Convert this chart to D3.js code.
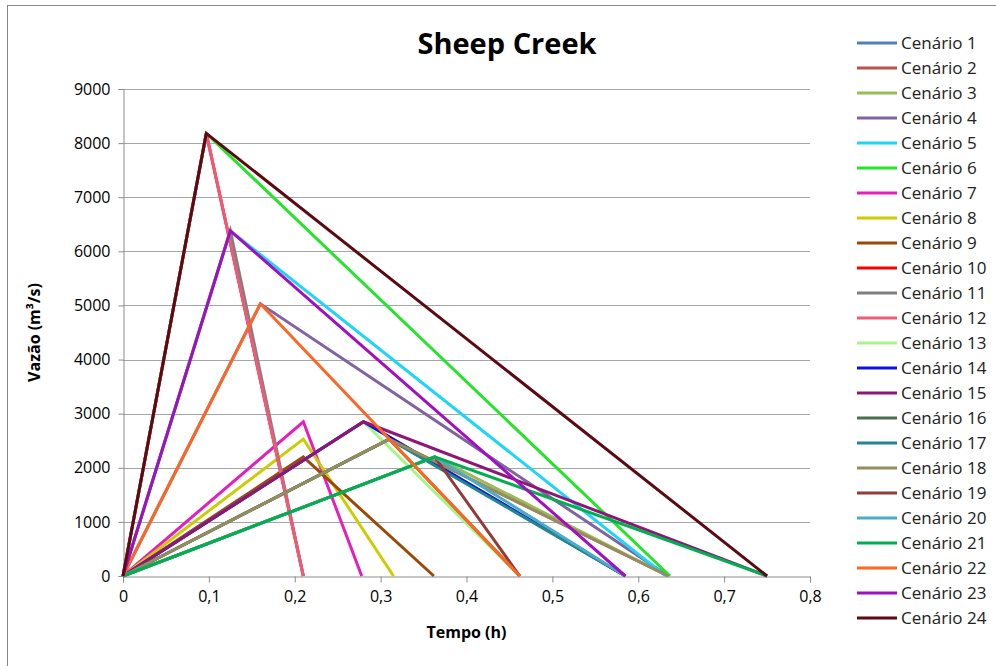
<!DOCTYPE html>
<html>
<head>
<meta charset="utf-8">
<script src="https://cdn.jsdelivr.net/npm/d3@7"></script>
<style>
  body { margin: 0; background: #fff; }
  svg { display: block; }
  text { font-family: "Liberation Sans Narrow", "Open Sans", "Liberation Sans", sans-serif; }
</style>
</head>
<body>
<svg id="chart" width="996" height="666"></svg>
<script>
// ---- Data ----
const scenarios = ["Cenário 1","Cenário 2","Cenário 3","Cenário 4","Cenário 5","Cenário 6",
  "Cenário 7","Cenário 8","Cenário 9","Cenário 10","Cenário 11","Cenário 12",
  "Cenário 13","Cenário 14","Cenário 15","Cenário 16","Cenário 17","Cenário 18",
  "Cenário 19","Cenário 20","Cenário 21","Cenário 22","Cenário 23","Cenário 24"];
// time of peak (h)
const peakTime = [0.28, 0.31, 0.363, 0.16, 0.125, 0.097,
  0.21, 0.21, 0.21, 0.097, 0.125, 0.097,
  0.28, 0.28, 0.28, 0.31, 0.31, 0.31,
  0.363, 0.363, 0.363, 0.16, 0.125, 0.097];
// peak flow (m3/s)
const peakFlow = [2850, 2530, 2200, 5030, 6380, 8180,
  2850, 2530, 2200, 8180, 6380, 8180,
  2850, 2850, 2850, 2530, 2530, 2530,
  2200, 2200, 2200, 5030, 6380, 8180];
// base time (h)
const baseTime = [0.585, 0.635, 0.635, 0.635, 0.632, 0.637,
  0.278, 0.315, 0.362, 0.21, 0.21, 0.21,
  0.462, 0.585, 0.75, 0.462, 0.585, 0.635,
  0.462, 0.585, 0.75, 0.462, 0.585, 0.75];
const colors = ["#4F81BD","#C0504D","#9BBB59","#8064A2","#1FD5F5","#26E32B",
  "#E41FBE","#CCCC00","#9A4A06","#FF0000","#808080","#EE5A78",
  "#A6F58A","#1010E0","#8E1679","#4A6E4E","#21868E","#968C5C",
  "#923B38","#4BACC6","#00B050","#FF6622","#A010C0","#5A0A12"];
const xTicks = [0,0.1,0.2,0.3,0.4,0.5,0.6,0.7,0.8];
const yTicks = [0,1000,2000,3000,4000,5000,6000,7000,8000,9000];

// ---- Layout ----
const svg = d3.select("#chart");
const L = 123, R = 810, T = 89, B = 576;
const x = d3.scaleLinear().domain([0, 0.8]).range([L, R]);
const y = d3.scaleLinear().domain([0, 9000]).range([B, T]);

// outer border
svg.append("rect").attr("x", 7.5).attr("y", 5.5).attr("width", 1000).attr("height", 700)
  .attr("fill", "none").attr("stroke", "#888").attr("stroke-width", 1);

// gridlines
svg.append("g").selectAll("line").data(yTicks.slice(1)).join("line")
  .attr("x1", L).attr("x2", R)
  .attr("y1", d => Math.round(y(d)) + 0.5).attr("y2", d => Math.round(y(d)) + 0.5)
  .attr("stroke", "#A6A6A6").attr("stroke-width", 1);

// y axis
const yAxis = d3.axisLeft(y).tickValues(yTicks).tickSize(5).tickPadding(8).tickFormat(d3.format("d"));
const gy = svg.append("g").attr("transform", `translate(${L + 0.5},0)`).call(yAxis);
gy.select(".domain").attr("stroke", "#8C8C8C");
gy.selectAll(".tick line").attr("stroke", "#8C8C8C");
gy.selectAll(".tick text").attr("font-size", 16).attr("fill", "#000");

// x axis
const fmtX = d => d === 0 ? "0" : d3.format(".1f")(d).replace(".", ",");
const xAxis = d3.axisBottom(x).tickValues(xTicks).tickSize(6).tickPadding(8).tickFormat(fmtX);
const gx = svg.append("g").attr("transform", `translate(0,${B + 0.5})`).call(xAxis);
gx.select(".domain").attr("stroke", "#8C8C8C");
gx.selectAll(".tick line").attr("stroke", "#8C8C8C");
gx.selectAll(".tick text").attr("font-size", 16).attr("fill", "#000");

// series lines
const line = d3.line().x(d => x(d[0])).y(d => y(d[1]));
const series = scenarios.map((name, i) => ({
  name, color: colors[i],
  pts: [[0, 0], [peakTime[i], peakFlow[i]], [baseTime[i], 0]]
}));
svg.append("g").selectAll("path").data(series).join("path")
  .attr("d", d => line(d.pts))
  .attr("fill", "none").attr("stroke", d => d.color)
  .attr("stroke-width", 3).attr("stroke-linejoin", "miter");

// title
svg.append("text").attr("x", 507).attr("y", 54).attr("text-anchor", "middle")
  .attr("font-size", 29).attr("font-weight", "bold")
  .style("font-family", "'Open Sans', 'Liberation Sans', sans-serif")
  .text("Sheep Creek");

// axis titles
svg.append("text").attr("x", (L + R) / 2).attr("y", 638).attr("text-anchor", "middle")
  .attr("font-size", 16).attr("font-weight", "bold").text("Tempo (h)");
svg.append("text").attr("transform", `translate(40,${(T + B) / 2}) rotate(-90)`)
  .attr("text-anchor", "middle").attr("font-size", 16).attr("font-weight", "bold")
  .text("Vazão (m³/s)");

// legend
const lg = svg.append("g").selectAll("g").data(series).join("g")
  .attr("transform", (d, i) => `translate(857,${43 + i * 25})`);
lg.append("line").attr("x1", 0).attr("x2", 40).attr("y1", 0).attr("y2", 0)
  .attr("stroke", d => d.color).attr("stroke-width", 3);
lg.append("text").attr("x", 44).attr("y", 6).attr("font-size", 17)
  .style("font-family", "'Open Sans', 'Liberation Sans', sans-serif")
  .attr("fill", "#222").text(d => d.name);
</script>
</body>
</html>
